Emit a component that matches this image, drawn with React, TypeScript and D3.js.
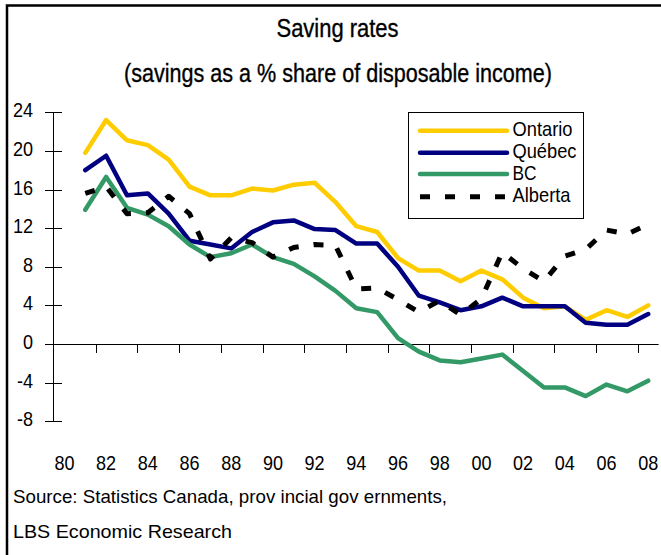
import React from "react";
import * as d3 from "d3";

const categories = [1980, 1981, 1982, 1983, 1984, 1985, 1986, 1987, 1988, 1989, 1990, 1991, 1992, 1993, 1994, 1995, 1996, 1997, 1998, 1999, 2000, 2001, 2002, 2003, 2004, 2005, 2006, 2007, 2008];
const years = [1981, 1982, 1983, 1984, 1985, 1986, 1987, 1988, 1989, 1990, 1991, 1992, 1993, 1994, 1995, 1996, 1997, 1998, 1999, 2000, 2001, 2002, 2003, 2004, 2005, 2006, 2007, 2008];

const ontario = [19.8, 23.2, 21.1, 20.6, 19.1, 16.3, 15.4, 15.4, 16.1, 15.9, 16.5, 16.7, 14.7, 12.2, 11.6, 8.9, 7.6, 7.6, 6.5, 7.6, 6.7, 4.8, 3.7, 3.9, 2.5, 3.5, 2.8, 4.0];
const quebec = [18.0, 19.5, 15.4, 15.6, 13.5, 10.7, 10.3, 9.9, 11.6, 12.6, 12.8, 11.9, 11.8, 10.4, 10.4, 8.0, 5.0, 4.3, 3.5, 3.9, 4.8, 3.9, 3.9, 3.9, 2.2, 2.0, 2.0, 3.1];
const bc = [13.9, 17.3, 14.1, 13.4, 12.2, 10.3, 9.0, 9.4, 10.3, 9.0, 8.3, 7.0, 5.5, 3.7, 3.3, 0.6, -0.8, -1.7, -1.9, -1.5, -1.1, -2.8, -4.5, -4.5, -5.4, -4.2, -4.9, -3.8];
const alberta = [15.6, 16.3, 13.5, 13.6, 15.3, 13.5, 8.8, 11.0, 10.5, 9.0, 10.0, 10.3, 10.2, 5.7, 5.8, 4.6, 3.3, 4.5, 3.0, 4.7, 9.5, 7.8, 6.5, 9.1, 9.8, 11.8, 11.4, 12.4];

const yTicks = [24, 20, 16, 12, 8, 4, 0, -4, -8];
const xLabelYears = [1980, 1982, 1984, 1986, 1988, 1990, 1992, 1994, 1996, 1998, 2000, 2002, 2004, 2006, 2008];
const xLabels = ["80", "82", "84", "86", "88", "90", "92", "94", "96", "98", "00", "02", "04", "06", "08"];

const seriesNames = ["Ontario", "Québec", "BC", "Alberta"];
const seriesColors = ["#FFCC00", "#000080", "#339966", "#000000"];
const seriesData = [ontario, quebec, bc, alberta];

const FONT = "'Liberation Sans Narrow', 'Arial Narrow', 'Liberation Sans', Arial, sans-serif";
const NARROW = 0.86;

export default function App() {
  const W = 661, H = 555;
  const x = d3.scaleBand<number>().domain(categories).range([54, 54 + 29 * 20.85]).paddingInner(0).paddingOuter(0);
  const y = d3.scaleLinear().domain([-8, 24]).range([421.2, 112.3]);
  const bw = x.bandwidth();
  const cx = (yr: number) => (x(yr) as number) + bw / 2;

  const line = d3.line<number>()
    .x((_, i) => cx(years[i]))
    .y((d) => y(d));

  const axisX = 53.5;
  const y0 = y(0);
  const xEnd = 54 + 29 * 20.85;

  const boundaryTicks = xLabelYears.slice(1).map((yr) => x(yr) as number);

  const legendX = 408, legendY = 112, legendW = 175, legendH = 106;
  const legendRows = [130.7, 152.7, 174, 196.7];
  const legendWidths = [60, 64, 24, 58];

  return (
    <svg width={W} height={H} style={{ position: "absolute", left: 0, top: 0, background: "#fff" }} fontFamily={FONT}>
      <rect x={0} y={0} width={W} height={H} fill="#fff" />
      <path d={`M7,${H} V5.5 H${W}`} fill="none" stroke="#000" strokeWidth={2.5} />

      <text x={337.5} y={36.5} fontSize={25} textAnchor="middle" textLength={122} lengthAdjust="spacingAndGlyphs" fill="#000" stroke="#000" strokeWidth={0.35}>Saving rates</text>
      <text x={338} y={82} fontSize={25} textAnchor="middle" textLength={428} lengthAdjust="spacingAndGlyphs" fill="#000" stroke="#000" strokeWidth={0.35}>(savings as a % share of disposable income)</text>

      {/* y axis */}
      <line x1={axisX} x2={axisX} y1={y(24)} y2={y(-8)} stroke="#000" strokeWidth={1} />
      {yTicks.map((t) => (
        <g key={t}>
          <line x1={45} x2={62} y1={Math.round(y(t)) + 0.5} y2={Math.round(y(t)) + 0.5} stroke="#000" strokeWidth={1} />
          <text transform={`translate(33,${y(t) + 5}) scale(${NARROW},1)`} fontSize={21} textAnchor="end" fill="#000">{t}</text>
        </g>
      ))}

      {/* x axis */}
      <line x1={axisX} x2={xEnd} y1={Math.round(y0) + 0.5} y2={Math.round(y0) + 0.5} stroke="#000" strokeWidth={1} />
      {boundaryTicks.map((bx, i) => (
        <line key={i} x1={Math.round(bx) + 0.5} x2={Math.round(bx) + 0.5} y1={y0} y2={y0 + 9} stroke="#000" strokeWidth={1} />
      ))}
      {xLabelYears.map((yr, i) => (
        <text key={yr} transform={`translate(${cx(yr)},470) scale(${NARROW},1)`} fontSize={21} textAnchor="middle" fill="#000">{xLabels[i]}</text>
      ))}

      {/* series */}
      {seriesData.map((s, i) => (
        <path
          key={seriesNames[i]}
          d={line(s) || ""}
          fill="none"
          stroke={seriesColors[i]}
          strokeWidth={i === 3 ? 5 : 4.5}
          strokeDasharray={i === 3 ? "10 15" : undefined}
          strokeLinejoin="round"
          strokeLinecap={i === 3 ? "butt" : "round"}
        />
      ))}

      {/* legend */}
      <rect x={legendX + 0.5} y={legendY + 0.5} width={legendW} height={legendH} fill="#fff" stroke="#000" strokeWidth={1} />
      {seriesNames.map((n, i) => (
        <g key={n}>
          <line
            x1={420}
            x2={507}
            y1={legendRows[i]}
            y2={legendRows[i]}
            stroke={seriesColors[i]}
            strokeWidth={i === 3 ? 5 : 4.5}
            strokeDasharray={i === 3 ? "10 15" : undefined}
            strokeLinecap={i === 3 ? "butt" : "round"}
          />
          <text x={512.5} y={legendRows[i] + 5.5} fontSize={21} textLength={legendWidths[i]} lengthAdjust="spacingAndGlyphs" fill="#000">{n}</text>
        </g>
      ))}

      {/* source */}
      <text x={13} y={503} fontSize={19} textLength={434} lengthAdjust="spacingAndGlyphs" fill="#000">Source: Statistics Canada, prov incial gov ernments,</text>
      <text x={13} y={538} fontSize={19} textLength={219} lengthAdjust="spacingAndGlyphs" fill="#000">LBS Economic Research</text>
    </svg>
  );
}
